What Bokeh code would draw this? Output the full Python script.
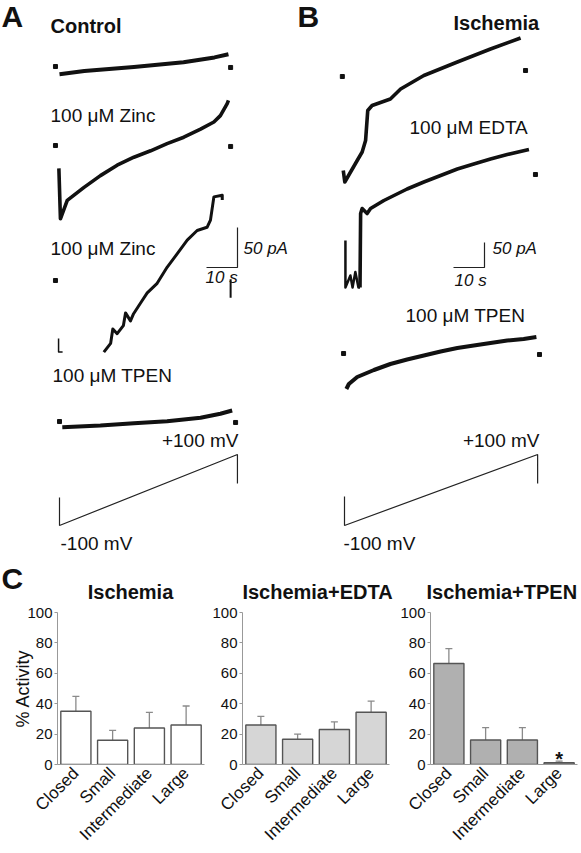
import math
from bokeh.plotting import figure
from bokeh.models import Range1d, FactorRange, ColumnDataSource, Whisker, TeeHead
from bokeh.layouts import column, row
from bokeh.embed import file_html
from bokeh.resources import INLINE
from bokeh.core.properties import value

FONT = "Liberation Sans"
INK = "#111111"

# ================= DATA =================
# Current traces: time (s, from start of ramp) and current (pA, relative to the zero marker)
ctrl_t = [0, 8, 24, 40, 50, 54.5]
ctrl_pA = [-9, -5, 0, 6, 12, 16]

zinc1_t = [-0.2, 0.3, 2.5, 7.8, 13.2, 18.6, 24.0, 29.4, 34.7, 40.1, 45.5, 49.8, 51.9, 54.1, 54.5]
zinc1_pA = [-28, -91, -68, -52, -37, -24, -14, -6, 3, 11, 21, 30, 38, 53, 57]

zinc2_clip_t = [-0.3, -0.3, 1.0]
zinc2_clip_pA = [-70, -87, -87]
zinc2_t = [14.3, 16.5, 17.2, 18.6, 20.6, 21.3, 22.9, 23.9, 26.1, 28.3, 31.5, 34.7, 38.0,
           41.2, 44.4, 47.6, 48.7, 49.8, 52.5, 52.5]
zinc2_pA = [-87, -76, -58, -64, -54, -38, -48, -39, -26, -13, -1, 19, 36, 53, 65, 69, 78,
            107, 109, 103]

tpenA_t = [0.9, 13.2, 24.0, 34.7, 45.5, 51.9, 55.7]
tpenA_pA = [-6.5, -4.4, -1.5, 1, 5.3, 10.3, 14.4]

isch_t = [-0.4, 0.1, 4.1, 5.7, 6.8, 7.5, 8.9, 14.8, 18.1, 25.6, 36.4, 47.1, 56.8]
isch_pA = [-188, -211, -168, -151, -128, -68, -58, -45, -25, 2, 29, 55, 77]

edta_clip_t = [0.3, 0.3, 1.9, 2.6, 3.5, 4.5, 5.0]
edta_clip_pA = [-132, -226, -202, -226, -195, -226, -226]
edta_t = [5.0, 5.2, 5.7, 7.3, 8.4, 12.7, 20.2, 25.6, 31.0, 36.4, 41.7, 47.1, 52.5, 59.5]
edta_pA = [-226, -78, -68, -78, -68, -52, -29, -15, -2, 11, 21, 31, 40, 50]

tpenB_t = [0.6, 1.4, 4.1, 9.5, 14.8, 20.2, 25.6, 31.0, 36.4, 41.7, 47.1, 52.5, 57.8, 61.9]
tpenB_pA = [-70, -60, -46, -32, -20, -11, -3, 5, 12, 17, 22, 27, 30, 34]

# zero-current markers
ctrl_zero_t, ctrl_zero_pA = [-1.3, 55.2], [0.6, -0.6]
zinc1_zero_t, zinc1_zero_pA = [-1.3, 55.2], [0.6, -0.6]
zinc2_zero_t, zinc2_zero_pA = [-1.3], [2.5]
zinc2_end_t, zinc2_end_pA = [55.2, 55.2], [4, -19]
tpenA_zero_t, tpenA_zero_pA = [0, 56.8], [0.6, -0.6]
isch_zero_t, isch_zero_pA = [-0.7, 58.4], [0, 12]
edta_zero_t, edta_zero_pA = [61.6], [0]
tpenB_zero_t, tpenB_zero_pA = [-0.3, 62.9], [1, -1]

# voltage ramp protocols (s, mV)
rampA_t, rampA_mV = [0, 0, 57.4, 57.4], [-21, -100, 100, 18]
rampB_t, rampB_mV = [0, 0, 62.3, 62.3], [-18, -100, 100, 18]

# scale bars
SCALE_S = 10
SCALE_PA = 50

# Bar charts (% activity)
categories = ["Closed", "Small", "Intermediate", "Large"]
bar_titles = ["Ischemia", "Ischemia+EDTA", "Ischemia+TPEN"]
isch_mean = [35, 16, 24, 26]
isch_err = [9.8, 6.5, 10.3, 12.5]
edta_mean = [26, 16.6, 23, 34.4]
edta_err = [5.7, 3.4, 5.0, 7.3]
tpen_mean = [66.4, 16.1, 16.1, 1.2]
tpen_err = [9.8, 8.1, 8.1, 1.0]
y_ticks = [0, 20, 40, 60, 80, 100]

# ================= LAYOUT =================
PX_S = 3.1        # px per second
PX_PA_A = 0.8     # px per pA, panel A
PX_PA_B = 0.5     # px per pA, panel B
PX_MV = 0.355     # px per mV
TOP_H = 604
X0 = 59           # px of t=0 of panel A


def tx(px):
    return (px - X0) / PX_S


def ty(py):
    return (TOP_H - py) / PX_PA_A


def tyB(py):
    return (TOP_H - py) / PX_PA_B


T0 = {"A": 0.0, "B": tx(344)}
BASE_A = {"ctrl": ty(66.5), "zinc1": ty(145.5), "zinc2": ty(282), "tpen": ty(421.5)}
BASE_B = {"isch": tyB(76), "edta": tyB(174), "tpen": tyB(353.5)}
MV_ZERO_PX = 489.5

top = figure(width=581, height=TOP_H, x_range=Range1d(tx(0), tx(581)),
             y_range=Range1d(0, TOP_H / PX_PA_A), output_backend="svg",
             toolbar_location=None, x_axis_location=None, y_axis_location=None,
             min_border=0)
top.extra_y_ranges = {
    "pA_B": Range1d(0, TOP_H / PX_PA_B),
    "mV": Range1d((MV_ZERO_PX - TOP_H) / PX_MV, MV_ZERO_PX / PX_MV),
}
top.outline_line_color = None
top.xgrid.visible = False
top.ygrid.visible = False


def trace(ts, ps, t0, base, rng="default", lw=3.4):
    top.line([t + t0 for t in ts], [p + base for p in ps], line_color=INK,
             line_width=lw, line_join="round", y_range_name=rng)


def zeros(ts, ps, t0, base, rng="default"):
    top.scatter([t + t0 for t in ts], [p + base for p in ps], marker="square", size=4,
                color=INK, y_range_name=rng)


# Panel A
trace(ctrl_t, ctrl_pA, T0["A"], BASE_A["ctrl"], lw=4)
zeros(ctrl_zero_t, ctrl_zero_pA, T0["A"], BASE_A["ctrl"])
trace(zinc1_t, zinc1_pA, T0["A"], BASE_A["zinc1"], lw=3.6)
zeros(zinc1_zero_t, zinc1_zero_pA, T0["A"], BASE_A["zinc1"])
trace(zinc2_clip_t, zinc2_clip_pA, T0["A"], BASE_A["zinc2"], lw=1.5)
trace(zinc2_t, zinc2_pA, T0["A"], BASE_A["zinc2"], lw=3.0)
zeros(zinc2_zero_t, zinc2_zero_pA, T0["A"], BASE_A["zinc2"])
trace(zinc2_end_t, zinc2_end_pA, T0["A"], BASE_A["zinc2"], lw=2)
trace(tpenA_t, tpenA_pA, T0["A"], BASE_A["tpen"], lw=4)
zeros(tpenA_zero_t, tpenA_zero_pA, T0["A"], BASE_A["tpen"])

# Panel B
trace(isch_t, isch_pA, T0["B"], BASE_B["isch"], "pA_B", lw=3.6)
zeros(isch_zero_t, isch_zero_pA, T0["B"], BASE_B["isch"], "pA_B")
trace(edta_clip_t, edta_clip_pA, T0["B"], BASE_B["edta"], "pA_B", lw=2.5)
trace(edta_t, edta_pA, T0["B"], BASE_B["edta"], "pA_B", lw=3.6)
zeros(edta_zero_t, edta_zero_pA, T0["B"], BASE_B["edta"], "pA_B")
trace(tpenB_t, tpenB_pA, T0["B"], BASE_B["tpen"], "pA_B", lw=4)
zeros(tpenB_zero_t, tpenB_zero_pA, T0["B"], BASE_B["tpen"], "pA_B")

# Ramps
top.line([t + T0["A"] for t in rampA_t], rampA_mV, line_color="#222222", line_width=1.2,
         y_range_name="mV")
top.line([t + T0["B"] for t in rampB_t], rampB_mV, line_color="#222222", line_width=1.2,
         y_range_name="mV")

# Scale bars
cxA, cyA = tx(237), ty(267)
top.line([cxA - SCALE_S, cxA, cxA], [cyA, cyA, cyA + SCALE_PA], line_color="#222222",
         line_width=1.2)
cxB, cyB = tx(484), tyB(267)
top.line([cxB - SCALE_S, cxB, cxB], [cyB, cyB, cyB + SCALE_PA], line_color="#222222",
         line_width=1.2, y_range_name="pA_B")


def txt(px, py, s, size="19px", style="normal", align="left"):
    top.text([tx(px)], [ty(py)], text=[s], text_font=value(FONT), text_font_size=size,
             text_font_style=style, text_align=align, text_baseline="middle",
             text_color=INK)


txt(1, 16, "A", "30px", "bold")
txt(297, 16, "B", "30px", "bold")
txt(1, 578, "C", "30px", "bold")
txt(50, 25, "Control", "20px", "bold")
txt(453, 22, "Ischemia", "20px", "bold")
txt(50, 115, "100 \u03bcM Zinc")
txt(50, 248, "100 \u03bcM Zinc")
txt(52, 375, "100 \u03bcM TPEN")
txt(409, 127, "100 \u03bcM EDTA")
txt(405, 315, "100 \u03bcM TPEN")
txt(238, 440, "+100 mV", align="right")
txt(539, 440, "+100 mV", align="right")
txt(60, 543, "-100 mV")
txt(343, 543, "-100 mV")
txt(243, 248, "50 pA", "17px", "italic")
txt(205, 277, "10 s", "17px", "italic")
txt(492, 248, "50 pA", "17px", "italic")
txt(454, 280, "10 s", "17px", "italic")

# bar-chart titles (drawn above the bar panels)
txt(130, 591, bar_titles[0], "20px", "bold", "center")
txt(317, 591, bar_titles[1], "20px", "bold", "center")
txt(426, 591, bar_titles[2], "20px", "bold", "left")

BAR_H = 853 - TOP_H


def bar_fig(means, errs, fill, width, bl, br, ylabel=None):
    p = figure(x_range=FactorRange(factors=categories), y_range=Range1d(0, 100),
               width=width, height=BAR_H, output_backend="svg", toolbar_location=None,
               min_border_left=bl, min_border_right=br, min_border_top=612 - TOP_H,
               min_border_bottom=853 - 766)
    p.outline_line_color = None
    p.xgrid.visible = False
    p.ygrid.visible = False
    src = ColumnDataSource(dict(cat=categories, mean=means,
                                upper=[m + e for m, e in zip(means, errs)]))
    p.vbar(x="cat", top="mean", width=0.82, source=src, fill_color=fill,
           line_color="#555555", line_width=1.4)
    w = Whisker(base="cat", lower="mean", upper="upper", source=src, dimension="height",
                line_color="#8a8a8a", line_width=1.3, lower_head=None,
                upper_head=TeeHead(size=7, line_color="#8a8a8a", line_width=1.3))
    p.add_layout(w)
    ya = p.yaxis[0]
    ya.ticker = y_ticks
    ya.major_label_text_font = FONT
    ya.major_label_text_font_size = "15px"
    ya.major_label_text_color = INK
    ya.major_tick_out = 3
    ya.major_tick_in = 0
    ya.minor_tick_out = 0
    ya.minor_tick_in = 0
    ya.major_label_standoff = 2
    ya.axis_line_color = "#999999"
    ya.major_tick_line_color = "#999999"
    if ylabel:
        ya.axis_label = ylabel
        ya.axis_label_text_font = FONT
        ya.axis_label_text_font_size = "18px"
        ya.axis_label_text_font_style = "normal"
        ya.axis_label_text_color = INK
        ya.axis_label_standoff = -9
    xa = p.xaxis[0]
    xa.major_label_orientation = math.pi / 4
    xa.major_label_text_font = FONT
    xa.major_label_text_font_size = "17px"
    xa.major_label_text_color = INK
    xa.major_tick_out = 0
    xa.major_tick_in = 0
    xa.major_label_standoff = 6
    xa.axis_line_color = "#999999"
    return p


b1 = bar_fig(isch_mean, isch_err, "#ffffff", 205, 57, 1, "% Activity")
b2 = bar_fig(edta_mean, edta_err, "#d6d6d6", 187, 37, 3)
b3 = bar_fig(tpen_mean, tpen_err, "#b0b0b0", 189, 38, 4)

b3.text(x=["Large"], y=[tpen_mean[3] + tpen_err[3] + 1.5], text=["*"],
        text_font=value(FONT), text_font_size="20px", text_font_style="bold",
        text_align="center", text_baseline="middle", text_color=INK)

layout = column(top, row(b1, b2, b3))
open("out.html", "w").write(file_html(layout, INLINE))
